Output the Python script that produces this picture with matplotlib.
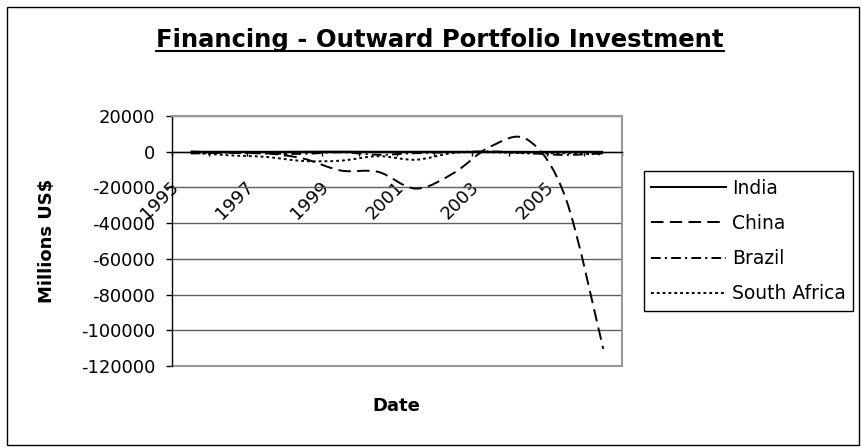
import numpy as np
import matplotlib
matplotlib.use("Agg")
import matplotlib.pyplot as plt
from matplotlib.path import Path
from matplotlib.patches import PathPatch, Rectangle
from matplotlib.lines import Line2D
from matplotlib.transforms import ScaledTranslation

plt.rcParams['font.family'] = ['DejaVu Sans']
plt.rcParams['lines.scale_dashes'] = False

# ---- data ----
years = [1995, 1996, 1997, 1998, 1999, 2000, 2001, 2002, 2003, 2004, 2005, 2006]
year_labels = ["1995", "1997", "1999", "2001", "2003", "2005"]
india = [0, -10, -50, 20, 50, -20, -10, -30, -40, -60, -20, -30]
china = [79, -628, -899, -3830, -10535, -11307, -20654, -12095, 2983, 6486, -26157, -110419]
brazil = [-1000, -600, -1000, -1200, -300, -1700, -800, -300, 200, -800, -1800, -900]
south_africa = [-450, -2000, -2900, -5200, -5000, -2500, -4500, -700, -300, -900, -800, -1500]
series_names = ["India", "China", "Brazil", "South Africa"]
y_ticks = [20000, 0, -20000, -40000, -60000, -80000, -100000, -120000]

W, H = 862, 447
fig = plt.figure(figsize=(W / 100, H / 100), dpi=100)

# outer chart border
fig.patches.append(Rectangle((7 / W, 1 - 445 / H), (859 - 7) / W, (445 - 7) / H,
                             transform=fig.transFigure, fill=False,
                             edgecolor='black', lw=1.0))

ax = fig.add_axes([172 / W, 1 - 366 / H, 450 / W, 250 / H])
n = len(years)
ax.set_xlim(-0.5, n - 0.5)
ax.set_ylim(-120000, 20000)


def smooth_path(xs, ys):
    pts = np.column_stack([xs, ys]).astype(float)
    verts = [pts[0]]
    codes = [Path.MOVETO]
    m = len(pts)
    for i in range(m - 1):
        p0 = pts[i - 1] if i > 0 else pts[i]
        p1 = pts[i]
        p2 = pts[i + 1]
        p3 = pts[i + 2] if i + 2 < m else pts[i + 1]
        c1 = p1 + (p2 - p0) / 6.0
        c2 = p2 - (p3 - p1) / 6.0
        verts += [c1, c2, p2]
        codes += [Path.CURVE4] * 3
    return Path(verts, codes)


lw = 1.4
styles = [
    '-',
    (0, (9, 4.5)),
    (0, (7, 3, 1.5, 3)),
    (0, (2, 2.2)),
]
xs = np.arange(n)
for vals, ls in zip([india, china, brazil, south_africa], styles):
    patch = PathPatch(smooth_path(xs, vals), fill=False, edgecolor='black',
                      lw=lw, linestyle=ls, capstyle='butt', joinstyle='round', zorder=3)
    ax.add_patch(patch)

# y axis
ax.set_yticks(y_ticks)
ax.set_yticklabels([str(v) for v in y_ticks])
ax.tick_params(axis='y', direction='out', length=4.3, width=1, pad=7.9,
               labelsize=13, colors='black')
ax.yaxis.grid(True, color='#606060', lw=1)
ax.set_axisbelow(True)

# x axis at zero
ax.spines['bottom'].set_position(('data', 0))
ax.spines['bottom'].set_color('black')
ax.spines['bottom'].set_linewidth(1)
ax.spines['bottom'].set_zorder(2.5)
ax.spines['left'].set_color('black')
ax.spines['left'].set_linewidth(1)
for s in ['top', 'right']:
    ax.spines[s].set_color('#999999')
    ax.spines[s].set_linewidth(1.5)
ax.axhline(-120000, color='#999999', lw=1.5, clip_on=False)

label_pos = [i for i in range(0, n, 2)]
ax.set_xticks(label_pos)
ax.set_xticklabels(year_labels, rotation=45, ha='right', va='top',
                   rotation_mode='anchor', fontsize=13)
ax.set_xticks(np.arange(-0.5, n, 1.0), minor=True)
ax.tick_params(axis='x', which='major', length=0, pad=0)
ax.tick_params(axis='x', which='minor', direction='out', length=3, width=1)
offset = ScaledTranslation(-0.21, -0.26, fig.dpi_scale_trans)
for tick in ax.xaxis.get_major_ticks():
    tick.label1.set_transform(tick.label1.get_transform() + offset)

# titles
title = fig.text(440 / W, 1 - 47 / H, "Financing - Outward Portfolio Investment",
                 ha='center', va='baseline', fontsize=17.5, fontweight='bold')
fig.text(47 / W, 1 - 241 / H, "Millions US$", rotation=90, ha='center', va='center',
         fontsize=13, fontweight='bold')
fig.text(396 / W, 1 - 406 / H, "Date", ha='center', va='center',
         fontsize=13, fontweight='bold')

# legend
handles = [Line2D([], [], color='black', lw=lw, linestyle=ls) for ls in styles]
leg = fig.legend(handles, series_names, loc='center left',
                 bbox_to_anchor=(644 / W, 1 - 241 / H), bbox_transform=fig.transFigure,
                 frameon=True, fancybox=False, edgecolor='black', framealpha=1,
                 fontsize=13.5, handlelength=4.0, handletextpad=0.28,
                 labelspacing=0.86, borderpad=0.4, borderaxespad=0)
leg.get_frame().set_linewidth(1)

# underline title
fig.canvas.draw()
bb = title.get_window_extent()
uy = 1 - 50.5 / H
fig.add_artist(Line2D([bb.x0 / W, bb.x1 / W], [uy, uy], transform=fig.transFigure,
                      color='black', lw=1.5))

fig.savefig("out.png", dpi=100)
